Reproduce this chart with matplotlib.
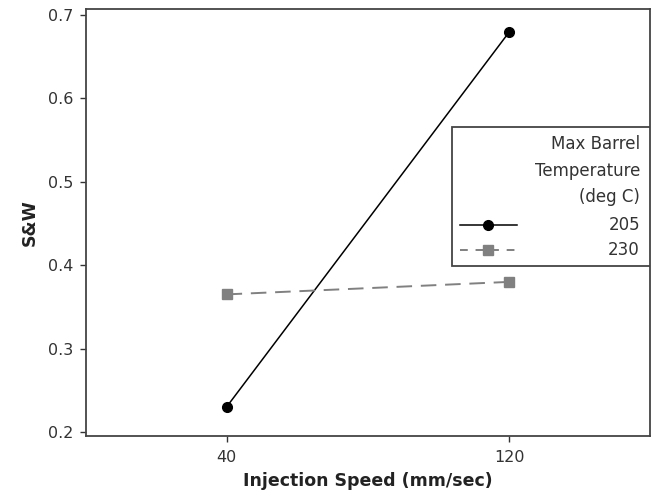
import matplotlib
matplotlib.use("Agg")
import matplotlib.pyplot as plt
from matplotlib.patches import Rectangle
from matplotlib.lines import Line2D

speeds = [40, 120]
temps = ["205", "230"]
sw_205 = [0.23, 0.68]
sw_230 = [0.365, 0.38]
legend_title = ["Max Barrel", "Temperature", "(deg C)"]

plt.rcParams["font.family"] = "DejaVu Sans"
fig = plt.figure(figsize=(6.58, 4.98), dpi=100)
ax = fig.add_axes([86/658, 62/498, 564/658, 427/498])

gray = "#808080"
dash = (0, (8, 4.5))
ax.plot(speeds, sw_205, color="black", lw=1.1, marker="o", ms=7)
ax.plot(speeds, sw_230, color=gray, lw=1.4, ls=dash, marker="s", ms=7)

ax.set_xlim(0.25, 159.75)
ax.set_ylim(0.1952, 0.7072)
ax.set_xticks(speeds)
ax.set_yticks([0.2, 0.3, 0.4, 0.5, 0.6, 0.7])
ax.set_yticklabels(["0.2", "0.3", "0.4", "0.5", "0.6", "0.7"])
ax.tick_params(labelsize=11.5, colors="#333333", length=4, width=1, pad=5)
ax.tick_params(axis="x", pad=6)
for s in ax.spines.values():
    s.set_color("#444444")
    s.set_linewidth(1.3)
ax.set_xlabel("Injection Speed (mm/sec)", fontsize=12.5, fontweight="bold", color="#222222", labelpad=5)
ax.set_ylabel("S&W", fontsize=12.5, fontweight="bold", color="#222222", labelpad=7)

# legend drawn by hand (right aligned texts like the original)
def px(x, y):
    return ((x - 86) / 564, (436 - y) / 427)

x0, y0 = px(452, 266)
x1, y1 = px(650, 127)
ax.add_patch(Rectangle((x0, y0), x1 - x0, y1 - y0, transform=ax.transAxes,
                       fill=True, facecolor="white", edgecolor="#444444", lw=1.3, zorder=5))
tx = px(640, 0)[0]
for line, yy in zip(legend_title, [144, 171, 197]):
    ax.text(tx, px(0, yy)[1], line, transform=ax.transAxes, ha="right", va="center",
            fontsize=12, color="#333333", zorder=6)
styles = [dict(color="black", ls="-", lw=1.1, marker="o", ms=7),
          dict(color=gray, ls=(0, (4, 4)), lw=1.4, marker="s", ms=7)]
for lab, st, yy in zip(temps, styles, [225, 250]):
    yl = px(0, yy)[1]
    xa, xb = px(460, 0)[0], px(517, 0)[0]
    ax.add_line(Line2D([xa, xb], [yl, yl], transform=ax.transAxes, color=st["color"],
                       ls=st["ls"], lw=st["lw"], zorder=6))
    ax.add_line(Line2D([(xa + xb) / 2], [yl], transform=ax.transAxes, color=st["color"],
                       marker=st["marker"], ms=st["ms"], ls="none", zorder=7))
    ax.text(tx, yl, lab, transform=ax.transAxes, ha="right", va="center",
            fontsize=12, color="#333333", zorder=6)

fig.savefig("out.png", dpi=100)
